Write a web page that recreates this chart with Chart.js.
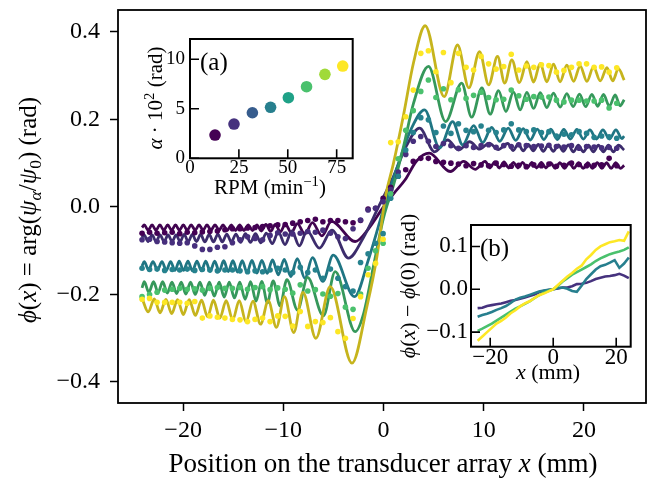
<!DOCTYPE html>
<html>
<head>
<meta charset="utf-8">
<title>phase profiles</title>
<script src="https://cdn.jsdelivr.net/npm/chart.js@4.4.1/dist/chart.umd.min.js"></script>
<style>
  html, body { margin: 0; padding: 0; background: #fff; }
  #wrap { position: relative; width: 651px; height: 479px; overflow: hidden; }
  #wrap canvas { position: absolute; }
</style>
</head>
<body>
<div id="wrap">
  <canvas id="mainChart" width="651" height="479" style="left:0;top:0"></canvas>
  <canvas id="insetA" width="230" height="175" style="left:130px;top:25px"></canvas>
  <canvas id="insetB" width="250" height="180" style="left:395px;top:205px"></canvas>
</div>
<script>
// ---- measured points (element positions, mm) ----
var dotX = [-24.10,-23.35,-22.60,-21.84,-21.09,-20.34,-19.59,-18.84,-18.08,-17.33,
  -16.58,-15.83,-15.08,-14.32,-13.57,-12.82,-12.07,-11.32,-10.56,-9.81,
  -9.06,-8.31,-7.56,-6.80,-6.05,-5.30,-4.55,-3.80,-3.04,-2.29,
  -1.54,-0.79,-0.04,0.72,1.47,2.22,2.97,3.72,4.48,5.23,
  5.98,6.73,7.48,8.24,8.99,9.74,10.49,11.24,12.00,12.75,
  13.50,14.25,15.00,15.76,16.51,17.26,18.01,18.76,19.52,20.27,
  21.02,21.77,22.52,23.28];

var yellowDots = [-0.211,-0.209,-0.218,-0.218,-0.218,-0.218,-0.220,-0.216,-0.254,-0.249,
  -0.252,-0.254,-0.257,-0.258,-0.262,-0.257,-0.254,-0.262,-0.249,-0.250,
  -0.272,-0.239,-0.273,-0.262,-0.264,-0.253,-0.285,-0.300,-0.255,-0.205,
  -0.155,-0.129,-0.074,0.147,0.149,0.206,0.267,0.351,0.357,0.309,
  0.353,0.284,0.351,0.319,0.313,0.344,0.327,0.315,0.321,0.349,
  0.313,0.322,0.319,0.325,0.323,0.308,0.312,0.319,0.327,0.327,
  0.319,0.320,0.308,0.318];
var greenDots = [-0.205,-0.200,-0.195,-0.190,-0.188,-0.186,-0.188,-0.187,-0.190,-0.186,
  -0.184,-0.186,-0.186,-0.184,-0.188,-0.184,-0.182,-0.189,-0.185,-0.188,
  -0.197,-0.178,-0.192,-0.189,-0.199,-0.204,-0.198,-0.229,-0.234,-0.199,
  -0.140,-0.100,-0.083,0.030,0.110,0.175,0.220,0.264,0.290,0.250,
  0.270,0.245,0.268,0.248,0.255,0.262,0.250,0.245,0.246,0.267,
  0.254,0.246,0.252,0.251,0.251,0.244,0.240,0.244,0.244,0.242,
  0.242,0.244,0.226,0.237];
var tealDots = [-0.140,-0.143,-0.142,-0.145,-0.143,-0.144,-0.142,-0.145,-0.143,-0.144,
  -0.146,-0.144,-0.144,-0.146,-0.148,-0.146,-0.148,-0.144,-0.140,-0.144,
  -0.150,-0.138,-0.150,-0.144,-0.163,-0.142,-0.163,-0.182,-0.192,-0.127,
  -0.107,-0.083,-0.061,0.020,0.070,0.130,0.170,0.204,0.199,0.170,
  0.185,0.168,0.190,0.175,0.172,0.185,0.175,0.170,0.176,0.190,
  0.176,0.172,0.176,0.170,0.172,0.162,0.166,0.165,0.172,0.168,
  0.159,0.162,0.160,0.157];
var indigoDots = [-0.075,-0.074,-0.079,-0.080,-0.082,-0.083,-0.082,-0.089,-0.097,-0.097,
  -0.092,-0.091,-0.082,-0.075,-0.068,-0.072,-0.075,-0.065,-0.059,-0.062,
  -0.062,-0.060,-0.056,-0.058,-0.053,-0.060,-0.068,-0.072,-0.050,-0.030,
  -0.007,-0.003,0.012,0.040,0.080,0.120,0.150,0.161,0.150,0.138,
  0.145,0.140,0.134,0.140,0.136,0.140,0.142,0.136,0.140,0.138,
  0.142,0.140,0.138,0.139,0.141,0.138,0.137,0.140,0.134,0.138,
  0.137,0.135,0.136,0.134];
var darkDots = [-0.060,-0.058,-0.060,-0.059,-0.058,-0.061,-0.058,-0.059,-0.057,-0.056,
  -0.055,-0.052,-0.050,-0.050,-0.048,-0.047,-0.045,-0.043,-0.041,-0.040,
  -0.037,-0.034,-0.031,-0.028,-0.034,-0.031,-0.031,-0.034,-0.036,-0.031,
  -0.005,-0.003,0.020,0.045,0.070,0.085,0.104,0.111,0.111,0.104,
  0.102,0.100,0.098,0.094,0.099,0.096,0.094,0.100,0.097,0.093,
  0.095,0.092,0.096,0.094,0.098,0.093,0.095,0.100,0.097,0.094,
  0.095,0.096,0.111,0.094];

// ---- fitted curves, [x mm, phase rad] read at turning points ----
var yellowFit = [[-24.08,-0.210],[-23.48,-0.240],[-22.88,-0.210],[-22.30,-0.242],[-21.72,-0.211],[-21.14,-0.244],
  [-20.56,-0.212],[-19.98,-0.246],[-19.39,-0.212],[-18.78,-0.248],[-18.16,-0.213],[-17.56,-0.251],
  [-16.97,-0.213],[-16.34,-0.254],[-15.70,-0.214],[-15.05,-0.258],[-14.40,-0.214],[-13.72,-0.263],
  [-13.03,-0.215],[-12.27,-0.268],[-11.50,-0.214],[-10.69,-0.275],[-9.88,-0.205],[-8.96,-0.287],
  [-8.04,-0.195],[-6.75,-0.300],[-5.32,-0.182],[-3.15,-0.357],[-1.66,-0.228],[-0.66,-0.114],
  [0.17,0.020],[1.00,0.100],[2.00,0.210],[3.00,0.330],[4.16,0.414],[6.06,0.252],[7.39,0.370],
  [8.52,0.272],[9.58,0.355],[10.50,0.279],[11.38,0.344],[12.10,0.283],[12.81,0.336],[13.56,0.284],
  [14.31,0.332],[14.98,0.285],[15.64,0.328],[16.30,0.286],[16.97,0.326],[17.63,0.286],[18.30,0.324],
  [18.97,0.287],[19.63,0.322],[20.30,0.287],[20.96,0.320],[21.63,0.288],[22.30,0.318],[22.88,0.288],
  [23.45,0.316],[24.02,0.290]];
var greenFit = [[-24.10,-0.185],[-23.88,-0.171],[-23.42,-0.195],[-22.95,-0.171],[-22.50,-0.196],[-22.04,-0.171],
  [-21.58,-0.197],[-21.11,-0.172],[-20.65,-0.198],[-20.19,-0.172],[-19.73,-0.199],[-19.26,-0.172],
  [-18.79,-0.200],[-18.32,-0.172],[-17.85,-0.202],[-17.38,-0.172],[-16.89,-0.204],[-16.40,-0.172],
  [-15.90,-0.206],[-15.40,-0.172],[-14.88,-0.208],[-14.35,-0.172],[-13.81,-0.211],[-13.27,-0.171],
  [-12.72,-0.215],[-12.16,-0.170],[-11.59,-0.219],[-11.01,-0.169],[-10.33,-0.226],[-9.64,-0.166],
  [-8.58,-0.236],[-7.58,-0.161],[-6.00,-0.249],[-4.82,-0.148],[-2.82,-0.285],[-2.00,-0.245],
  [-1.00,-0.135],[0.00,-0.025],[1.00,0.050],[2.00,0.138],[3.00,0.237],[4.49,0.321],[6.20,0.195],
  [7.80,0.283],[8.80,0.205],[9.82,0.272],[10.65,0.212],[11.48,0.266],[12.22,0.218],[12.97,0.263],
  [13.64,0.222],[14.31,0.262],[14.98,0.225],[15.64,0.261],[16.30,0.227],[16.97,0.260],[17.63,0.228],
  [18.30,0.259],[18.93,0.229],[19.56,0.258],[20.18,0.229],[20.80,0.257],[21.38,0.230],[21.96,0.257],
  [22.54,0.230],[23.12,0.256],[23.62,0.231],[24.02,0.245]];
var tealFit = [[-24.10,-0.135],[-23.88,-0.125],[-23.45,-0.144],[-23.01,-0.125],[-22.56,-0.144],[-22.11,-0.125],
  [-21.68,-0.145],[-21.25,-0.125],[-20.82,-0.145],[-20.39,-0.124],[-19.96,-0.145],[-19.52,-0.124],
  [-19.07,-0.146],[-18.62,-0.124],[-18.18,-0.146],[-17.74,-0.124],[-17.30,-0.147],[-16.85,-0.124],
  [-16.40,-0.147],[-15.95,-0.123],[-15.49,-0.148],[-15.03,-0.123],[-14.57,-0.149],[-14.10,-0.123],
  [-13.62,-0.150],[-13.13,-0.122],[-12.64,-0.151],[-12.14,-0.122],[-11.61,-0.152],[-11.08,-0.121],
  [-10.50,-0.155],[-9.91,-0.120],[-9.26,-0.159],[-8.61,-0.118],[-7.85,-0.163],[-7.09,-0.116],
  [-6.05,-0.170],[-5.02,-0.110],[-2.90,-0.205],[-1.50,-0.120],[0.00,-0.005],[1.50,0.100],[2.80,0.180],
  [4.10,0.222],[5.60,0.135],[6.90,0.195],[7.90,0.142],[9.00,0.186],[9.90,0.147],[10.80,0.182],
  [11.60,0.150],[12.45,0.180],[13.20,0.152],[13.95,0.179],[14.65,0.153],[15.35,0.178],[16.00,0.154],
  [16.70,0.178],[17.35,0.154],[18.00,0.177],[18.65,0.155],[19.30,0.177],[19.95,0.155],[20.60,0.176],
  [21.25,0.155],[21.90,0.176],[22.55,0.155],[23.20,0.176],[23.80,0.156],[24.02,0.162]];
var indigoFit = [[-24.10,-0.070],[-23.90,-0.064],[-23.50,-0.079],[-23.10,-0.064],[-22.70,-0.079],[-22.30,-0.064],
  [-21.90,-0.079],[-21.50,-0.064],[-21.10,-0.079],[-20.70,-0.064],[-20.30,-0.079],[-19.90,-0.063],
  [-19.49,-0.079],[-19.08,-0.063],[-18.67,-0.079],[-18.25,-0.063],[-17.83,-0.080],[-17.40,-0.063],
  [-16.97,-0.080],[-16.53,-0.062],[-16.09,-0.080],[-15.64,-0.062],[-15.19,-0.080],[-14.73,-0.062],
  [-14.26,-0.081],[-13.78,-0.061],[-13.28,-0.081],[-12.78,-0.061],[-12.24,-0.082],[-11.70,-0.060],
  [-11.10,-0.084],[-10.50,-0.057],[-9.83,-0.086],[-9.15,-0.055],[-8.40,-0.089],[-7.64,-0.054],
  [-6.40,-0.094],[-5.15,-0.053],[-3.50,-0.117],[-2.00,-0.070],[-0.50,0.000],[1.00,0.070],[2.30,0.140],
  [3.60,0.180],[5.10,0.126],[6.40,0.153],[7.50,0.130],[8.60,0.149],[9.60,0.132],[10.55,0.146],
  [11.45,0.131],[12.40,0.145],[12.95,0.129],[13.45,0.144],[13.95,0.128],[14.45,0.143],[14.95,0.128],
  [15.45,0.143],[15.95,0.127],[16.45,0.142],[16.95,0.127],[17.45,0.142],[17.95,0.127],[18.45,0.142],
  [18.95,0.126],[19.45,0.141],[19.95,0.126],[20.45,0.141],[20.95,0.126],[21.45,0.141],[21.95,0.126],
  [22.45,0.141],[22.95,0.126],[23.45,0.141],[24.02,0.130]];
var darkFit = [[-24.10,-0.047],[-23.88,-0.041],[-23.49,-0.053],[-23.10,-0.041],[-22.71,-0.053],[-22.32,-0.041],
  [-21.93,-0.053],[-21.54,-0.041],[-21.15,-0.053],[-20.76,-0.041],[-20.37,-0.053],[-19.98,-0.041],
  [-19.59,-0.053],[-19.20,-0.041],[-18.80,-0.053],[-18.41,-0.041],[-18.01,-0.053],[-17.62,-0.041],
  [-17.22,-0.053],[-16.82,-0.041],[-16.41,-0.053],[-16.01,-0.041],[-15.60,-0.054],[-15.19,-0.041],
  [-14.77,-0.054],[-14.36,-0.041],[-13.93,-0.054],[-13.51,-0.041],[-13.07,-0.054],[-12.64,-0.041],
  [-12.19,-0.055],[-11.74,-0.040],[-11.27,-0.056],[-10.80,-0.040],[-10.30,-0.057],[-9.80,-0.039],
  [-9.20,-0.059],[-8.60,-0.038],[-7.85,-0.062],[-7.10,-0.036],[-6.15,-0.066],[-5.20,-0.033],
  [-2.82,-0.079],[-1.50,-0.050],[0.00,0.000],[1.00,0.030],[2.16,0.062],[3.30,0.105],[4.56,0.123],
  [6.66,0.081],[8.00,0.104],[9.15,0.086],[10.15,0.104],[10.62,0.089],[11.10,0.103],[11.56,0.089],
  [12.03,0.103],[12.50,0.089],[12.96,0.102],[13.42,0.089],[13.89,0.102],[14.35,0.089],[14.82,0.102],
  [15.28,0.089],[15.75,0.102],[16.21,0.089],[16.68,0.101],[17.14,0.088],[17.61,0.101],[18.07,0.088],
  [18.54,0.101],[19.00,0.088],[19.47,0.101],[19.93,0.088],[20.40,0.101],[20.86,0.088],[21.33,0.101],
  [21.80,0.088],[22.26,0.101],[22.72,0.088],[23.19,0.101],[23.65,0.088],[24.02,0.095]];

// ---- inset (a): alpha vs rotation speed ----
var rpm = [12.8, 22.5, 31.9, 41.2, 50.3, 59.6, 69.0, 78.1];
var alpha100 = [2.35, 3.46, 4.60, 5.15, 6.12, 7.23, 8.48, 9.32];
var rpmColors = ['#440154','#46327e','#365c8d','#277f8e','#1fa187','#4ac16d','#a0da39','#fde725'];

// ---- inset (b): phi(x) - phi(0) ----
var bX = [-24,-22.5,-21,-19.5,-18,-16.5,-15,-13.5,-12,-10.5,-9,-7.5,-6,-4.5,-3,-1.5,0,
  1.5,3,4.5,6,7.5,9,10.5,12,13.5,15,16.5,18,19.5,21,22.5,24];
var bIndigo = [-0.044,-0.043,-0.039,-0.037,-0.035,-0.033,-0.030,-0.027,-0.025,-0.022,
  -0.019,-0.016,-0.012,-0.007,-0.004,-0.002,0.000,0.002,0.004,0.004,
  0.007,0.012,0.013,0.015,0.019,0.024,0.027,0.030,0.031,0.033,0.036,0.032,0.026];
var bTeal = [-0.064,-0.060,-0.057,-0.053,-0.048,-0.044,-0.039,-0.032,-0.024,-0.020,
  -0.017,-0.013,-0.009,-0.005,-0.003,-0.001,0.000,0.003,0.004,0.001,
  -0.004,-0.006,0.008,0.024,0.035,0.046,0.054,0.057,0.062,0.068,0.050,0.060,0.074];
var bGreen = [-0.097,-0.092,-0.086,-0.080,-0.073,-0.066,-0.059,-0.052,-0.045,-0.040,
  -0.034,-0.028,-0.021,-0.014,-0.008,-0.004,0.000,0.008,0.018,0.026,
  0.034,0.040,0.046,0.052,0.058,0.066,0.072,0.077,0.082,0.085,0.088,0.092,0.098];
var bYellow = [-0.120,-0.110,-0.100,-0.090,-0.080,-0.074,-0.066,-0.056,-0.049,-0.040,
  -0.033,-0.028,-0.021,-0.014,-0.010,-0.005,0.000,0.010,0.020,0.030,
  0.038,0.048,0.055,0.070,0.080,0.092,0.100,0.105,0.110,0.112,0.115,0.113,0.135];

var mainXTicks = [-20, -10, 0, 10, 20];
var mainYTicks = [-0.4, -0.2, 0.0, 0.2, 0.4];

var SERIF = '"Liberation Serif", "Times New Roman", serif';

function minus(s) { return s.replace('-', '\u2212'); }
function fmtInt(v) { return minus(String(v)); }
function fmtOne(v) { return minus(v.toFixed(1)); }
function pairs(xs, ys) { return xs.map(function (x, i) { return { x: x, y: ys[i] }; }); }
function pts(list) { return list.map(function (p) { return { x: p[0], y: p[1] }; }); }

// text with italic / sub / superscript pieces; flags: i italic, _ sub, ^ sup
function rich(ctx, segs, x, y, size, rot, align) {
  ctx.save();
  ctx.translate(x, y);
  if (rot) ctx.rotate(rot);
  ctx.fillStyle = '#000';
  ctx.textBaseline = 'alphabetic';
  ctx.textAlign = 'left';
  function font(f) {
    var small = f.indexOf('_') >= 0 || f.indexOf('^') >= 0;
    return (f.indexOf('i') >= 0 ? 'italic ' : '') + (small ? size * 0.7 : size) + 'px ' + SERIF;
  }
  var w = 0;
  segs.forEach(function (s) { ctx.font = font(s[1]); w += ctx.measureText(s[0]).width; });
  var cx = align === 'left' ? 0 : -w / 2;
  segs.forEach(function (s) {
    ctx.font = font(s[1]);
    var dy = size * 0.33;
    if (s[1].indexOf('_') >= 0) dy += size * 0.18;
    if (s[1].indexOf('^') >= 0) dy -= size * 0.4;
    ctx.fillText(s[0], cx, dy);
    cx += ctx.measureText(s[0]).width;
  });
  ctx.restore();
}

var axisDeco = {
  id: 'axisDeco',
  beforeDraw: function (chart, args, o) {
    if (!o.white) return;
    var a = chart.chartArea, ctx = chart.ctx;
    ctx.save();
    ctx.fillStyle = '#fff';
    ctx.fillRect(a.left, a.top, a.right - a.left, a.bottom - a.top);
    ctx.restore();
  },
  afterDraw: function (chart, args, o) {
    var a = chart.chartArea, ctx = chart.ctx;
    ctx.save();
    ctx.strokeStyle = '#000';
    if (o.inTicks) {
      ctx.lineWidth = 1.6;
      ctx.beginPath();
      var sx = chart.scales.x, sy = chart.scales.y;
      sx.ticks.forEach(function (t) {
        var p = sx.getPixelForValue(t.value);
        ctx.moveTo(p, a.bottom); ctx.lineTo(p, a.bottom - o.inTicks);
      });
      sy.ticks.forEach(function (t) {
        var p = sy.getPixelForValue(t.value);
        ctx.moveTo(a.left, p); ctx.lineTo(a.left + o.inTicks, p);
      });
      ctx.stroke();
    }
    ctx.lineWidth = o.frame;
    ctx.strokeRect(a.left, a.top, a.right - a.left, a.bottom - a.top);
    ctx.restore();
    (o.texts || []).forEach(function (t) { rich(ctx, t.segs, t.x, t.y, t.size, t.rot, t.align); });
  }
};

function scaleOpts(min, max, tickVals, fmt, size, pad, fit, tickLen) {
  return {
    type: 'linear', min: min, max: max,
    afterBuildTicks: function (s) { s.ticks = tickVals.map(function (v) { return { value: v }; }); },
    afterFit: function (s) {
      if (s.isHorizontal()) s.height = fit; else s.width = fit;
      s.paddingTop = 0; s.paddingBottom = 0; s.paddingLeft = 0; s.paddingRight = 0;
    },
    border: { display: false },
    grid: { drawOnChartArea: false, drawTicks: tickLen > 0, tickLength: tickLen, tickWidth: 1.5, tickColor: '#000' },
    ticks: { color: '#000', padding: pad, autoSkip: false, maxRotation: 0,
      font: { family: SERIF, size: size, lineHeight: 1 }, callback: fmt }
  };
}

function fitLine(data, color, order) {
  return { data: pts(data), borderColor: color, borderWidth: 2.8, pointRadius: 0,
    cubicInterpolationMode: 'monotone', fill: false, order: order };
}
function dotSet(ys, color) {
  return { data: pairs(dotX, ys), showLine: false, pointRadius: 2.8, pointBorderWidth: 0,
    pointBackgroundColor: color, borderColor: color, order: 0 };
}

new Chart(document.getElementById('mainChart'), {
  type: 'line',
  data: {
    datasets: [
      dotSet(yellowDots, '#fde725'),
      dotSet(greenDots, '#4ac16d'),
      dotSet(tealDots, '#26828e'),
      dotSet(indigoDots, '#472f7d'),
      dotSet(darkDots, '#440154'),
      fitLine(yellowFit, '#c6b41d', 1),
      fitLine(greenFit, '#36985b', 2),
      fitLine(tealFit, '#1f7583', 3),
      fitLine(indigoFit, '#3c2c6c', 4),
      fitLine(darkFit, '#410450', 5)
    ]
  },
  options: {
    responsive: false, animation: false, devicePixelRatio: 1,
    layout: { padding: { top: 10, right: 5, left: 0, bottom: 0 } },
    plugins: {
      legend: { display: false }, tooltip: { enabled: false },
      axisDeco: {
        frame: 1.8,
        texts: [
          { segs: [['Position on the transducer array ', ''], ['x', 'i'], [' (mm)', '']], x: 383, y: 463, size: 27 },
          { segs: [['\u03d5', 'i'], ['(', ''], ['x', 'i'], [') = arg(', ''], ['\u03c8', 'i'], ['\u03b1', 'i_'],
                   ['/', ''], ['\u03c8', 'i'], ['0', '_'], [') (rad)', '']], x: 28, y: 210, size: 25, rot: -Math.PI / 2 }
        ]
      }
    },
    scales: {
      x: scaleOpts(-26.5, 26.2, mainXTicks, fmtInt, 24, 8, 76, 8),
      y: scaleOpts(-0.448, 0.450, mainYTicks, fmtOne, 24, 10, 118, 8)
    }
  },
  plugins: [axisDeco]
});

new Chart(document.getElementById('insetA'), {
  type: 'line',
  data: {
    datasets: [{
      data: pairs(rpm, alpha100), showLine: false, pointRadius: 5.8, pointBorderWidth: 0,
      pointBackgroundColor: rpmColors, borderColor: '#000'
    }]
  },
  options: {
    responsive: false, animation: false, devicePixelRatio: 1,
    layout: { padding: { top: 14, right: 7.3, left: 0, bottom: 0 } },
    plugins: {
      legend: { display: false }, tooltip: { enabled: false },
      axisDeco: {
        white: true, frame: 2, inTicks: 9,
        texts: [
          { segs: [['(a)', '']], x: 70, y: 37, size: 25, align: 'left' },
          { segs: [['RPM (min', ''], ['\u22121', '^'], [')', '']], x: 140, y: 162, size: 21 },
          { segs: [['\u03b1', 'i'], [' \u00b7 10', ''], ['2', '^'], [' (rad)', '']], x: 25, y: 73, size: 21, rot: -Math.PI / 2 }
        ]
      }
    },
    scales: {
      x: scaleOpts(0, 83.2, [0, 25, 50, 75], fmtInt, 19, 0, 41.7, 0),
      y: scaleOpts(0, 12.05, [0, 5, 10], fmtInt, 19, 5, 60, 0)
    }
  },
  plugins: [axisDeco]
});

function bLine(ys, color, order) {
  return { data: pairs(bX, ys), borderColor: color, borderWidth: 2.6, pointRadius: 0, tension: 0, fill: false, order: order };
}

new Chart(document.getElementById('insetB'), {
  type: 'line',
  data: {
    datasets: [
      bLine(bYellow, '#fde725', 1),
      bLine(bGreen, '#4ac16d', 2),
      bLine(bTeal, '#277f8e', 3),
      bLine(bIndigo, '#46327e', 4)
    ]
  },
  options: {
    responsive: false, animation: false, devicePixelRatio: 1,
    layout: { padding: { top: 20, right: 14.3, left: 0, bottom: 0 } },
    plugins: {
      legend: { display: false }, tooltip: { enabled: false },
      axisDeco: {
        white: true, frame: 2, inTicks: 9,
        texts: [
          { segs: [['(b)', '']], x: 85, y: 43, size: 25, align: 'left' },
          { segs: [['x', 'i'], [' (mm)', '']], x: 153, y: 167, size: 22 },
          { segs: [['\u03d5', 'i'], ['(', ''], ['x', 'i'], [') \u2212 ', ''], ['\u03d5', 'i'], ['(0) (rad)', '']],
            x: 13, y: 81, size: 22, rot: -Math.PI / 2 }
        ]
      }
    },
    scales: {
      x: scaleOpts(-26.1, 24.6, [-20, 0, 20], fmtInt, 23, 0, 38.3, 0),
      y: scaleOpts(-0.134, 0.150, [-0.1, 0.0, 0.1], fmtOne, 23, 3, 76, 0)
    }
  },
  plugins: [axisDeco]
});
</script>
</body>
</html>
